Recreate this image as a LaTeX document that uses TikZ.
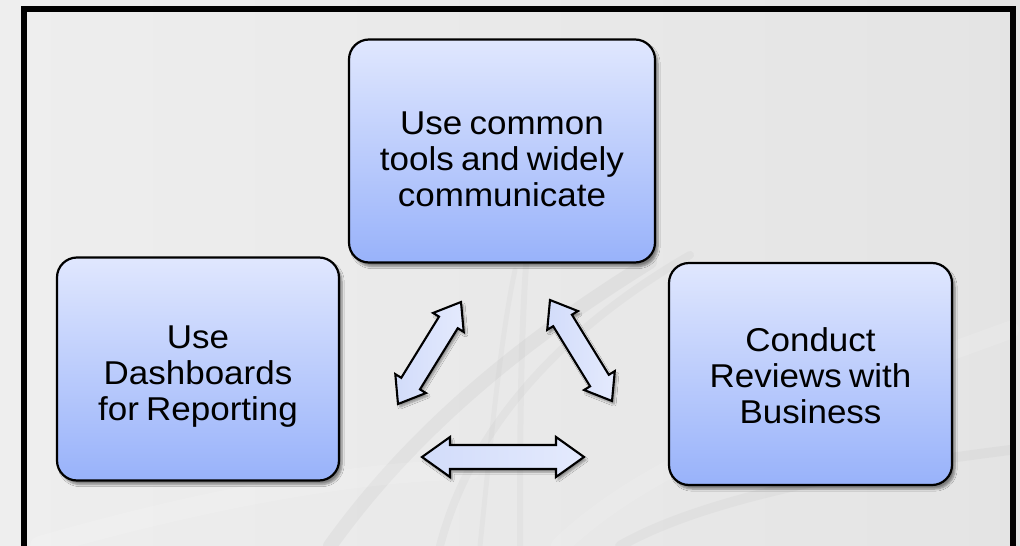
\documentclass[tikz,border=0pt]{standalone}
\usepackage{fontspec}
\setmainfont[FakeStretch=1.06,WordSpace=0.75]{Liberation Sans}
\usetikzlibrary{calc,shadows.blur}
\definecolor{boxtop}{RGB}{224,231,254}
\definecolor{boxbot}{RGB}{152,178,250}
\definecolor{arrA}{RGB}{210,220,250}
\definecolor{arrB}{RGB}{228,234,253}
\definecolor{bgA}{RGB}{238,238,238}
\definecolor{bgB}{RGB}{228,228,228}
\tikzset{
  boxnode/.style={draw=black, line width=2.2pt, rounded corners=20pt,
    top color=boxtop, bottom color=boxbot, inner sep=0pt,
    blur shadow={shadow xshift=3pt, shadow yshift=-4pt, shadow blur steps=6, shadow opacity=45}},
  boxtext/.style={align=center, inner sep=0pt, font=\fontsize{33}{36}\selectfont},
  blockarrow/.style={draw=black, line width=2.1pt, line join=miter,
    left color=arrA, right color=arrB,
    blur shadow={shadow xshift=2pt, shadow yshift=-3pt, shadow blur steps=5, shadow opacity=40}},
  swoosh/.style={line cap=round, opacity=0.12}
}
\newcommand\dblarr[5]{%
  \path[blockarrow] (#1)
    -- ($(#1)!#3!(#2)!#4!90:(#2)$)
    -- ($(#1)!#3!(#2)!#5!90:(#2)$)
    -- ($(#2)!#3!(#1)!#5!-90:(#1)$)
    -- ($(#2)!#3!(#1)!#4!-90:(#1)$)
    -- (#2)
    -- ($(#2)!#3!(#1)!#4!90:(#1)$)
    -- ($(#2)!#3!(#1)!#5!90:(#1)$)
    -- ($(#1)!#3!(#2)!#5!-90:(#2)$)
    -- ($(#1)!#3!(#2)!#4!-90:(#2)$)
    -- cycle;}
\begin{document}
\begin{tikzpicture}[x=1pt,y=-1pt]
\useasboundingbox (0,0) rectangle (1020,546);
\shade[left color=bgA, right color=bgB] (0,0) rectangle (1020,546);
% faint background swooshes
\draw[swoosh, gray!70, line width=14pt] (330,546) .. controls (420,420) and (540,330) .. (650,262);
\draw[swoosh, gray!60, line width=8pt] (440,546) .. controls (470,430) and (560,330) .. (690,255);
\draw[swoosh, white, line width=18pt] (560,546) .. controls (640,470) and (760,420) .. (1010,330);
\draw[swoosh, gray!50, line width=6pt] (520,546) .. controls (520,450) and (520,330) .. (528,240);
\draw[swoosh, gray!50, line width=5pt] (480,546) .. controls (490,450) and (500,340) .. (515,270);
\draw[swoosh, white, line width=20pt] (40,546) .. controls (200,500) and (360,470) .. (470,470);
\draw[swoosh, gray!60, line width=10pt] (620,546) .. controls (700,500) and (850,470) .. (1010,450);
% frame
\draw[line width=6pt, line join=miter] (24,560) -- (24,9) -- (1013,9) -- (1013,560);
% boxes
\node[boxnode, minimum width=306pt, minimum height=223pt] (top) at (502,151) {};
\node[boxtext] (toptext) at ([yshift=-8pt]top.center) {Use common\\tools and widely\\communicate};
\node[boxnode, minimum width=282pt, minimum height=223pt] (left) at (198,369) {};
\node[boxtext] (lefttext) at ([yshift=-8pt]left.center) {Use\\Dashboards\\for Reporting};
\node[boxnode, minimum width=283pt, minimum height=222pt] (right) at (810.5,374) {};
\node[boxtext] (righttext) at ([yshift=-2pt]right.center) {Conduct\\Reviews with\\Business};
% block arrows
\coordinate (la) at (398,404);
\coordinate (lb) at (461,302);
\coordinate (ra) at (550,300);
\coordinate (rb) at (612,401);
\coordinate (ba) at (422,457);
\coordinate (bb) at (584,457);
\dblarr{la}{lb}{24pt}{18pt}{11pt}
\dblarr{ra}{rb}{24pt}{18pt}{11pt}
\dblarr{ba}{bb}{28pt}{20pt}{12pt}
\end{tikzpicture}
\end{document}
